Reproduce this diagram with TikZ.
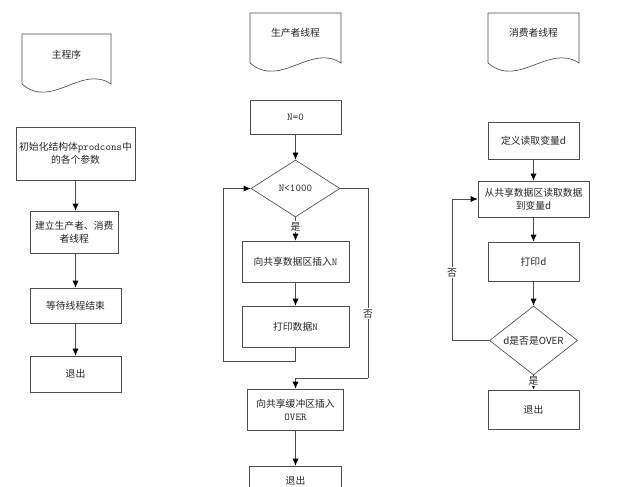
\documentclass[tikz,border=0pt]{standalone}
\usepackage{fontspec}
\setmainfont{Noto Sans CJK SC}
\newcommand{\monof}{\ttfamily\fontsize{10.5}{13}\selectfont}
\usetikzlibrary{shapes.geometric,arrows.meta}
\tikzset{
  txt/.style={font=\fontsize{9.8}{13}\selectfont, text=black!85},
  box/.style={txt, draw=black!70, line width=0.65pt, inner sep=0pt, align=center},
  dec/.style={txt, diamond, draw=black!70, line width=0.65pt, inner sep=0pt, align=center},
  ln/.style={draw=black!70, line width=0.65pt},
  arr/.style={ln, -{Latex[length=7pt,width=6pt,color=black]}},
  lbl/.style={txt, fill=white, inner sep=1pt},
  docline/.style={draw=black!70, line width=0.65pt}
}
% document shape: x1, x2, ytop, ybot
\newcommand{\mydocshape}[4]{%
  \draw[docline] (#1,#4) -- (#1,#3) -- (#2,#3) -- (#2,#4)
    .. controls ({#2-(#2-#1)/3},{#4-20}) and ({#1+(#2-#1)/3},{#4+26}) .. (#1,#4);}
\begin{document}
\begin{tikzpicture}[x=1pt,y=-1pt]
\useasboundingbox (0,0) rectangle (643,487);
\clip (0,0) rectangle (643,487);
\fill[white] (0,0) rectangle (643,487);

% ---------------- main program ----------------
\mydocshape{22}{111}{34}{84}
\node[txt] (mdoc) at (66.5,55) {主程序};
\node[box, minimum width=119pt, minimum height=53pt] (m1) at (75.5,153.5)
  {初始化结构体{\monof prodcons}中\\的各个参数};
\node[box, minimum width=88pt, minimum height=42pt] (m2) at (74.3,232)
  {建立生产者、消费\\者线程};
\node[box, minimum width=91pt, minimum height=35pt] (m3) at (75.5,305.5) {等待线程结束};
\node[box, minimum width=91pt, minimum height=36pt] (m4) at (75.5,374) {退出};
\draw[arr] (m1.south) -- (m1.south |- m2.north);
\draw[arr] (m1.south |- m2.south) -- (m1.south |- m3.north);
\draw[arr] (m3) -- (m4);

% ---------------- producer thread ----------------
\mydocshape{250}{341}{13}{63}
\node[txt] (pdoc) at (295.5,33) {生产者线程};
\node[box, minimum width=91pt, minimum height=34pt] (pn0) at (295.5,117) {\monof N=0};
\node[dec, minimum width=89pt, minimum height=57pt] (pdec) at (295.5,188.5) {\monof N<1000};
\node[box, minimum width=107pt, minimum height=41pt] (pins) at (295.5,261.5) {向共享数据区插入{\monof N}};
\node[box, minimum width=107pt, minimum height=41pt] (pprint) at (295.5,326.5) {打印数据{\monof N}};
\node[box, minimum width=96pt, minimum height=41pt] (pover) at (295.5,409.5)
  {向共享缓冲区插入\\{\monof OVER}};
\node[box, minimum width=92pt, minimum height=30pt] (pexit) at (295.5,481) {退出};
\coordinate (ploopL) at (223,361);
\coordinate (pnoR) at (368,378);
\draw[arr] (pn0) -- (pdec);
\draw[arr] (pdec.south) -- node[lbl, pos=0.4] {是} (pins.north);
\draw[arr] (pins) -- (pprint);
\draw[ln] (pprint.south) |- (ploopL);
\draw[arr] (ploopL) |- (pdec.west);
\draw[ln] (pdec.east) -| node[lbl, pos=0.83] {否} (pnoR);
\draw[arr] (pnoR) -| (pover.north);
\draw[arr] (pover) -- (pexit);

% ---------------- consumer thread ----------------
\mydocshape{488}{579}{13}{63}
\node[txt] (cdoc) at (533.5,33) {消费者线程};
\node[box, minimum width=91pt, minimum height=37pt] (cdef) at (533.5,140.5) {定义读取变量d};
\node[box, minimum width=111pt, minimum height=36pt] (cread) at (533.5,199)
  {从共享数据区读取数据\\到变量d};
\node[box, minimum width=91pt, minimum height=39pt] (cprint) at (533.5,261.5) {打印d};
\node[dec, minimum width=88pt, minimum height=57pt] (cdec) at (533.5,340.5) {d是否是OVER};
\node[box, minimum width=91pt, minimum height=39pt] (cexit) at (533.5,409.5) {退出};
\coordinate (cloopL) at (452,340.5);
\draw[arr] (cdef) -- (cread);
\draw[arr] (cread) -- (cprint);
\draw[arr] (cprint) -- (cdec);
\draw[arr] (cdec.south) -- node[lbl, pos=0.4] {是} (cexit.north);
\draw[ln] (cdec.west) -- (cloopL);
\draw[arr] (cloopL) |- node[lbl, pos=0.24] {否} (cread.west);
\end{tikzpicture}
\end{document}
